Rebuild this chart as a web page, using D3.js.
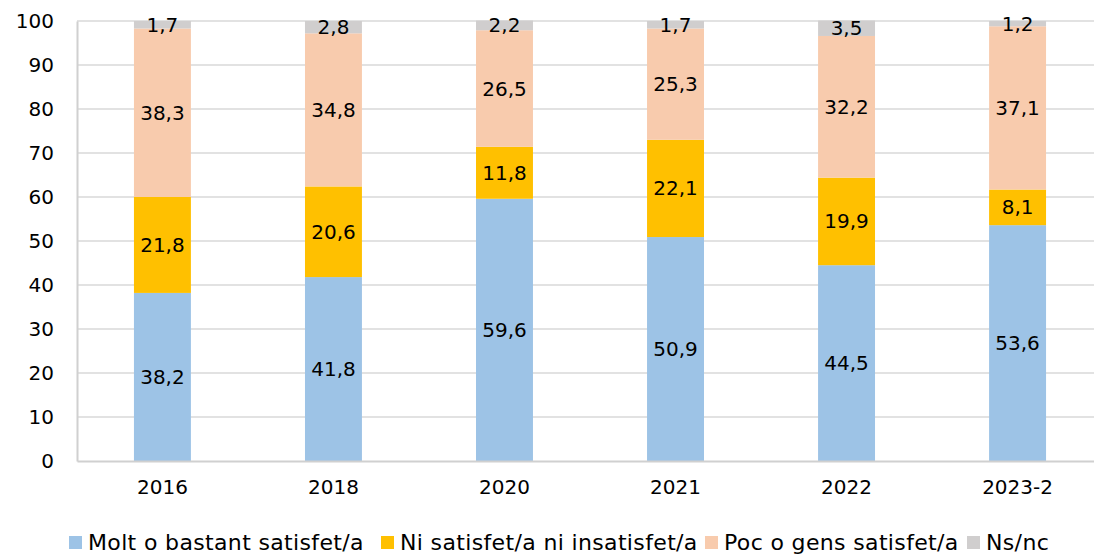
<!DOCTYPE html>
<html>
<head>
<meta charset="utf-8">
<script src="https://cdn.jsdelivr.net/npm/d3@7"></script>
<style>
  body { margin: 0; background: #fff; }
  svg text { font-family: "DejaVu Sans", sans-serif; fill: #000; }
</style>
</head>
<body>
<svg id="chart" width="1094" height="556"></svg>
<script>
const years = ['2016', '2018', '2020', '2021', '2022', '2023-2']
const seriesNames = ['Molt o bastant satisfet/a', 'Ni satisfet/a ni insatisfet/a', 'Poc o gens satisfet/a', 'Ns/nc']
const molt = [38.2, 41.8, 59.6, 50.9, 44.5, 53.6]
const ni = [21.8, 20.6, 11.8, 22.1, 19.9, 8.1]
const poc = [38.3, 34.8, 26.5, 25.3, 32.2, 37.1]
const nsnc = [1.7, 2.8, 2.2, 1.7, 3.5, 1.2]
const yTicks = [0, 10, 20, 30, 40, 50, 60, 70, 80, 90, 100]
const colors = ['#9DC3E6', '#FFC000', '#F8CBAD', '#D0CECE']

const FONT = '"DejaVu Sans", sans-serif'
const margin = { top: 21, left: 77 }
const width = 1026
const height = 440

const svg = d3.select('#chart')
const g = svg.append('g').attr('transform', `translate(${margin.left},${margin.top})`)

const x = d3.scaleBand().domain(years).range([0, width]).paddingInner(0.667).paddingOuter(0.333)
const y = d3.scaleLinear().domain([0, 100]).range([height, 0])

// gridlines
g.selectAll('.grid')
  .data(yTicks.filter(t => t > 0))
  .enter()
  .append('line')
  .attr('x1', 0)
  .attr('x2', width)
  .attr('y1', d => y(d))
  .attr('y2', d => y(d))
  .attr('stroke', '#D9D9D9')
  .attr('stroke-width', 1.5)

const table = years.map((yr, i) => ({ year: yr, s0: molt[i], s1: ni[i], s2: poc[i], s3: nsnc[i] }))
const stack = d3.stack().keys(['s0', 's1', 's2', 's3'])(table)

const layers = g.selectAll('.layer')
  .data(stack)
  .enter()
  .append('g')
  .attr('fill', (d, i) => colors[i])

layers.selectAll('rect')
  .data(d => d)
  .enter()
  .append('rect')
  .attr('x', d => x(d.data.year))
  .attr('width', x.bandwidth())
  .attr('y', d => y(d[1]))
  .attr('height', d => y(d[0]) - y(d[1]))

// value labels, centred in each segment
stack.forEach((layer, li) => {
  g.selectAll('.lbl' + li)
    .data(layer)
    .enter()
    .append('text')
    .attr('x', d => x(d.data.year) + x.bandwidth() / 2)
    .attr('y', d => (y(d[0]) + y(d[1])) / 2)
    .attr('dy', '0.35em')
    .attr('text-anchor', 'middle')
    .attr('font-size', 20)
    .text(d => d3.format('.1f')(d[1] - d[0]).replace('.', ','))
})

// axes
const yAxis = g.append('g').call(d3.axisLeft(y).tickValues(yTicks).tickSize(0).tickPadding(23))
yAxis.select('.domain').attr('stroke', '#D0D0D0').attr('stroke-width', 2)
yAxis.selectAll('text').attr('font-size', 20).attr('font-family', FONT)

const xAxis = g.append('g').attr('transform', `translate(0,${height})`)
  .call(d3.axisBottom(x).tickSize(0).tickPadding(19))
xAxis.select('.domain').attr('stroke', '#D0D0D0').attr('stroke-width', 2)
xAxis.selectAll('text').attr('font-size', 20).attr('font-family', FONT)

// legend
const legendX = [69, 381, 705, 967]
const legend = svg.append('g').attr('transform', 'translate(0,542)')
seriesNames.forEach((name, i) => {
  legend.append('rect')
    .attr('x', legendX[i]).attr('y', -6).attr('width', 13).attr('height', 13)
    .attr('fill', colors[i])
  legend.append('text')
    .attr('x', legendX[i] + 19).attr('y', 0).attr('dy', '0.35em')
    .attr('font-size', 22)
    .attr('letter-spacing', 0.35)
    .text(name)
})
</script>
</body>
</html>
